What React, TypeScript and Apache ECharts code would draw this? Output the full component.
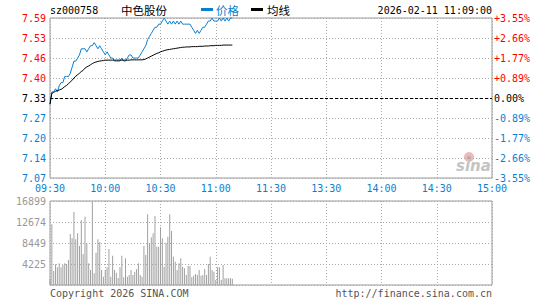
import React, { useEffect, useRef } from "react";
import * as echarts from "echarts";

const xLabels = ["09:30", "10:00", "10:30", "11:00", "11:30", "13:30", "14:00", "14:30", "15:00"];
const priceLabels = ["7.07", "7.14", "7.20", "7.27", "7.33", "7.40", "7.46", "7.53", "7.59"];
const pctLabels = ["-3.55%", "-2.66%", "-1.77%", "-0.89%", "0.00%", "+0.89%", "+1.77%", "+2.66%", "+3.55%"];
const volLabels = ["", "4225", "8449", "12674", "16899"];

const prevClose = 7.33;
const priceMin = 7.07;
const priceMax = 7.59;
const priceStep = 0.065;
const volMax = 16899;

const price = [
  7.31, 7.35, 7.35, 7.36, 7.35, 7.37, 7.38, 7.38, 7.40, 7.40,
  7.40, 7.41, 7.43, 7.45, 7.45, 7.46, 7.47, 7.49, 7.49, 7.49,
  7.48, 7.49, 7.50, 7.50, 7.51, 7.50, 7.49, 7.50, 7.49, 7.48,
  7.47, 7.48, 7.47, 7.46, 7.46, 7.45, 7.45, 7.45, 7.45, 7.46,
  7.45, 7.45, 7.46, 7.47, 7.47, 7.46, 7.46, 7.46, 7.46, 7.47,
  7.48, 7.49, 7.50, 7.52, 7.53, 7.54, 7.55, 7.56, 7.56, 7.57,
  7.57, 7.58, 7.59, 7.58, 7.57, 7.58, 7.57, 7.58, 7.57, 7.58,
  7.57, 7.58, 7.57, 7.57, 7.57, 7.57, 7.57, 7.56, 7.55, 7.54,
  7.55, 7.54, 7.55, 7.56, 7.56, 7.57, 7.58, 7.58, 7.59, 7.58,
  7.58, 7.58, 7.59, 7.58, 7.59, 7.58, 7.59, 7.58, 7.59, 7.59,
];

const avgPrice = [
  7.310, 7.345, 7.348, 7.352, 7.354, 7.356, 7.358, 7.362, 7.367, 7.371,
  7.376, 7.382, 7.388, 7.395, 7.401, 7.405, 7.411, 7.416, 7.420, 7.427,
  7.431, 7.434, 7.438, 7.442, 7.445, 7.447, 7.449, 7.450, 7.451, 7.452,
  7.453, 7.453, 7.453, 7.453, 7.453, 7.453, 7.453, 7.453, 7.453, 7.453,
  7.453, 7.453, 7.453, 7.453, 7.454, 7.454, 7.454, 7.454, 7.454, 7.454,
  7.454, 7.455, 7.457, 7.460, 7.463, 7.466, 7.469, 7.472, 7.475, 7.477,
  7.480, 7.482, 7.484, 7.486, 7.487, 7.488, 7.489, 7.490, 7.491, 7.492,
  7.493, 7.494, 7.495, 7.495, 7.496, 7.496, 7.496, 7.497, 7.497, 7.497,
  7.497, 7.498, 7.498, 7.498, 7.499, 7.499, 7.499, 7.500, 7.500, 7.500,
  7.501, 7.501, 7.501, 7.501, 7.502, 7.502, 7.502, 7.502, 7.502, 7.502,
];

const volume = [
  1207, 12207, 2817, 4158, 3555, 4360, 3555, 4024, 4360, 4225,
  5030, 10262, 9390, 14688, 9189, 10396, 7847, 13079, 6238, 13749,
  8384, 4360, 3018, 16768, 2347, 6506, 9189, 8652, 3018, 1677,
  3018, 3555, 7244, 1677, 5902, 3018, 2482, 1408, 3555, 5902,
  1543, 5366, 1677, 2012, 3018, 2012, 2683, 3152, 4360, 2012,
  1677, 7847, 6036, 14219, 8384, 9591, 10396, 13884, 7713, 7713,
  11603, 9390, 3689, 8518, 9725, 14219, 10865, 5701, 4695, 3018,
  4360, 5366, 3689, 3354, 2012, 3823, 3823, 1543, 1878, 2213,
  2012, 3018, 1878, 2012, 3219, 2012, 4225, 5701, 3018, 2683,
  1006, 3555, 3555, 1006, 4024, 1341, 1341, 1341, 1341, 1274,
];

const BLUE = "#0a7fd0";
const RED = "#ff0000";
const GRAY = "#999999";
const MONO = "'DejaVu Sans Mono', monospace";
const CJK = "'Noto Sans CJK SC', sans-serif";

const levelColor = (i: number) => (i < 4 ? BLUE : i === 4 ? "#000000" : RED);

export default function App() {
  const ref = useRef<HTMLDivElement>(null);

  useEffect(() => {
    if (!ref.current) return;
    const chart = echarts.init(ref.current, undefined, { renderer: "svg" });
    const splitDotted = { show: true, lineStyle: { color: "#aaaaaa", type: [1, 2] as any, width: 1 } };
    const priceIdx = (v: number) => Math.round((v - priceMin) / priceStep);

    chart.setOption({
      animation: false,
      backgroundColor: "#ffffff",
      grid: [
        { left: 50, top: 18, width: 442, height: 160, show: true, borderColor: GRAY, borderWidth: 1, backgroundColor: "transparent" },
        { left: 50, top: 201, width: 442, height: 84, show: true, borderColor: GRAY, borderWidth: 1, backgroundColor: "transparent" },
      ],
      xAxis: [
        {
          type: "value", gridIndex: 0, min: 0, max: 240, interval: 30,
          axisLine: { show: false }, axisTick: { show: false },
          splitLine: splitDotted,
          axisLabel: {
            margin: 5, color: BLUE, fontFamily: MONO, fontSize: 10,
            formatter: (v: number) => xLabels[Math.round(v / 30)] ?? "",
          },
        },
        {
          type: "value", gridIndex: 1, min: 0, max: 240, interval: 30,
          axisLine: { show: false }, axisTick: { show: false },
          splitLine: splitDotted,
          axisLabel: { show: false },
        },
      ],
      yAxis: [
        {
          type: "value", gridIndex: 0, min: priceMin, max: priceMax, interval: priceStep,
          axisLine: { show: false }, axisTick: { show: false },
          splitLine: splitDotted,
          axisLabel: {
            margin: 4, fontFamily: MONO, fontSize: 10,
            formatter: (v: number) => priceLabels[priceIdx(v)] ?? "",
            color: (v: any) => levelColor(priceIdx(Number(v))),
          },
        },
        {
          type: "value", gridIndex: 0, position: "right", min: priceMin, max: priceMax, interval: priceStep,
          axisLine: { show: false }, axisTick: { show: false },
          splitLine: { show: false },
          axisLabel: {
            margin: 2, fontFamily: MONO, fontSize: 10,
            formatter: (v: number) => pctLabels[priceIdx(v)] ?? "",
            color: (v: any) => levelColor(priceIdx(Number(v))),
          },
        },
        {
          type: "value", gridIndex: 1, min: 0, max: volMax, interval: volMax / 4,
          axisLine: { show: false }, axisTick: { show: false },
          splitLine: splitDotted,
          axisLabel: {
            margin: 4, fontFamily: MONO, fontSize: 10, color: GRAY,
            formatter: (v: number) => volLabels[Math.round(v / (volMax / 4))] ?? "",
          },
        },
      ],
      series: [
        {
          type: "line", name: "价格", xAxisIndex: 0, yAxisIndex: 0,
          data: price.map((p, i) => [i, p]),
          symbol: "none", showSymbol: false, clip: false, z: 3,
          lineStyle: { color: BLUE, width: 1 },
          markLine: {
            silent: true, symbol: "none", label: { show: false },
            lineStyle: { color: "#000000", type: [3, 2], width: 1 },
            data: [{ yAxis: prevClose }],
          },
        },
        {
          type: "line", name: "均线", xAxisIndex: 0, yAxisIndex: 0,
          data: avgPrice.map((p, i) => [i, p]),
          symbol: "none", showSymbol: false, z: 4,
          lineStyle: { color: "#000000", width: 1 },
        },
        {
          type: "bar", xAxisIndex: 1, yAxisIndex: 2,
          data: volume.map((v, i) => [i, v]),
          barWidth: 1,
          itemStyle: { color: "#a0a0a0" },
        },
      ],
      graphic: [
        { type: "text", left: 50, top: 5, style: { text: "sz000758", fill: "#000", font: `10px ${MONO}` } },
        { type: "text", left: 121, top: 4, style: { text: "中色股份", fill: "#000", font: `11.5px ${CJK}` } },
        { type: "rect", shape: { x: 201, y: 8, width: 12, height: 3 }, style: { fill: BLUE } },
        { type: "text", left: 216, top: 4, style: { text: "价格", fill: BLUE, font: `11.5px ${CJK}` } },
        { type: "rect", shape: { x: 251, y: 8, width: 12, height: 3 }, style: { fill: "#000" } },
        { type: "text", left: 267, top: 4, style: { text: "均线", fill: "#000", font: `11.5px ${CJK}` } },
        { type: "text", right: 53, top: 5, style: { text: "2026-02-11 11:09:00", fill: "#000", font: `10px ${MONO}` } },
        { type: "text", left: 50, top: 288, style: { text: "Copyright 2026 SINA.COM", fill: "#555", font: `10px ${MONO}` } },
        { type: "text", right: 53, top: 288, style: { text: "http://finance.sina.com.cn", fill: "#555", font: `10px ${MONO}` } },
        { type: "circle", shape: { cx: 469, cy: 157, r: 5 }, style: { fill: "#f2b8b8" } },
        { type: "circle", shape: { cx: 469, cy: 158, r: 2 }, style: { fill: "#b0b0b0" } },
        { type: "text", left: 456, top: 158, style: { text: "sina", fill: "#c4c4c4", font: `italic bold 15px 'DejaVu Sans', sans-serif` } },
      ],
    });

    return () => chart.dispose();
  }, []);

  return (
    <div
      ref={ref}
      style={{ position: "fixed", left: 0, top: 0, width: 545, height: 300, background: "#fff" }}
    />
  );
}
